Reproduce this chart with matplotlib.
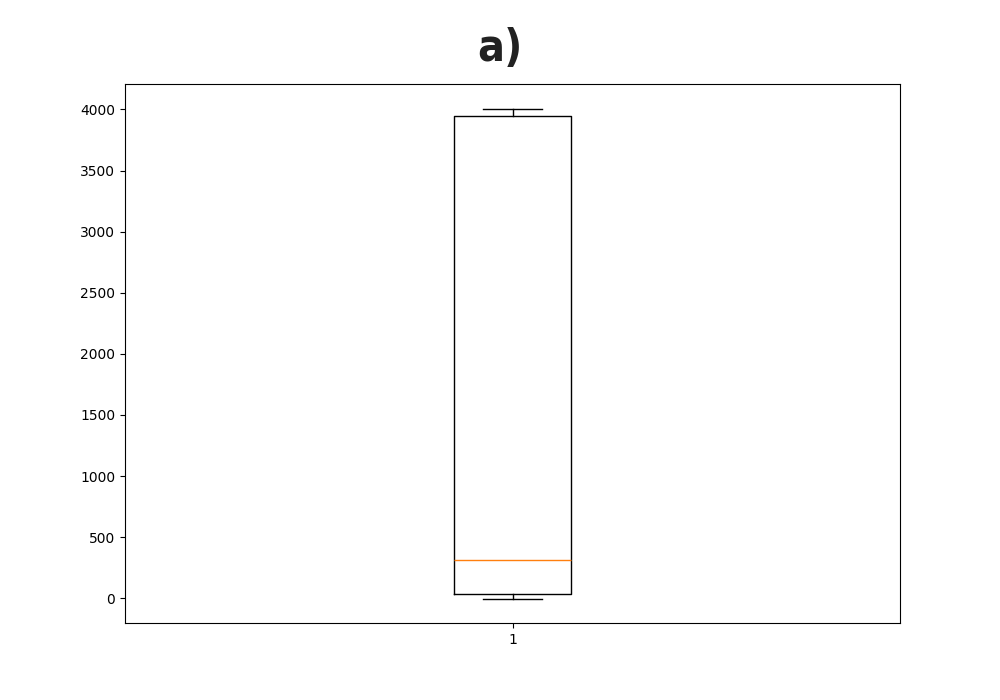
import matplotlib
matplotlib.use('Agg')
import matplotlib.pyplot as plt

# five-number summary
labels = ['1']
whislo = [-2]
q1 = [35]
med = [312]
q3 = [3943]
whishi = [4008]

stats = []
for i in range(len(labels)):
    stats.append({'label': labels[i], 'whislo': whislo[i], 'q1': q1[i],
                  'med': med[i], 'q3': q3[i], 'whishi': whishi[i], 'fliers': []})

fig, ax = plt.subplots(figsize=(10, 7), dpi=100)
ax.bxp(stats, showfliers=False)
fig.suptitle('a)', fontsize=32, fontweight='bold', y=0.931, va='center',
             family='DejaVu Sans', stretch='condensed', color='#222222')
plt.savefig('out.png', dpi=100)
